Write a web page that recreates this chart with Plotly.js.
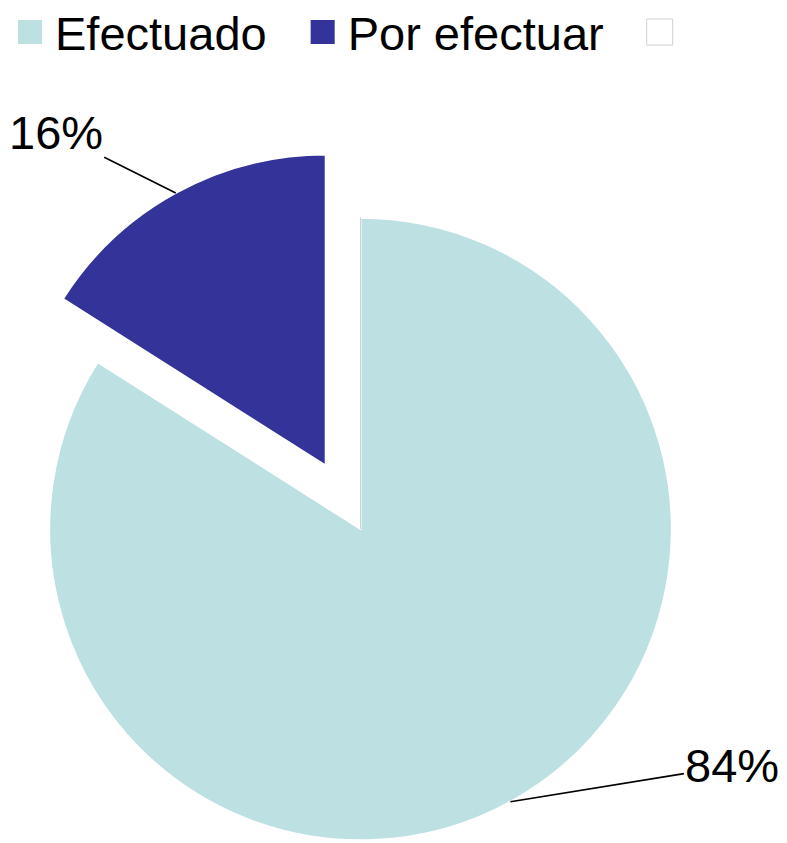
<!DOCTYPE html>
<html>
<head>
<meta charset="utf-8">
<script src="https://cdn.plot.ly/plotly-3.0.1.min.js"></script>
<style>
  html, body { margin: 0; padding: 0; width: 787px; height: 843px; overflow: hidden; background: #fff; }
  #chart { position: absolute; left: -100px; top: -5px; width: 1000px; height: 1000px; }
  .legendpie { transform: translate(51px, 0px) scale(2.17) !important; vector-effect: non-scaling-stroke; }
</style>
</head>
<body>
<div id="chart"></div>
<script>
// ---- data ----
var labels = ["Efectuado", "Por efectuar", " "];
var values = [84, 16, 0];
var pulls = [0, 0.232, 0];
var sliceColors = ["#BDE0E3", "#333399", "#FFFFFF"];
var lineColors = ["#FFFFFF", "#FFFFFF", "#D0D0D0"];
var lineWidths = [2, 2, 1];
var pctLabels = ["84%", "16%"];
var labelOffsets = [[222, -36], [-120, -60]]; // pixel offsets of label text from slice edge

// ---- geometry ----
var W = 1000, H = 1000;
var domX = [0.077, 0.844], domY = [0.0825, 0.8495];
var maxPull = Math.max.apply(null, pulls);
var rPx = Math.min(W * (domX[1] - domX[0]), H * (domY[1] - domY[0])) / 2 / (1 + maxPull);
var cxPx = W * (domX[0] + domX[1]) / 2;
var cyPx = H * (1 - (domY[0] + domY[1]) / 2);

var total = values.reduce(function (a, b) { return a + b; }, 0);
var annotations = [];
var cum = 0;
for (var i = 0; i < 2; i++) {
  var mid = (cum + values[i] / 2) / total;
  cum += values[i];
  var th = mid * 2 * Math.PI;
  var dx = Math.sin(th), dy = -Math.cos(th);
  var pcx = cxPx + dx * rPx * pulls[i];
  var pcy = cyPx + dy * rPx * pulls[i];
  var ex = pcx + dx * rPx, ey = pcy + dy * rPx;
  annotations.push({
    x: ex / W, y: 1 - ey / H, xref: "paper", yref: "paper",
    text: pctLabels[i], showarrow: true, arrowhead: 0, arrowwidth: 1.6,
    arrowcolor: "#000", standoff: 0, ax: labelOffsets[i][0], ay: labelOffsets[i][1],
    font: { family: "Liberation Sans, Arial, sans-serif", size: 47, color: "#000" }
  });
}

var trace = {
  type: "pie",
  labels: labels,
  values: values,
  pull: pulls,
  sort: false,
  direction: "clockwise",
  rotation: 0,
  textinfo: "none",
  hoverinfo: "label+percent",
  domain: { x: domX, y: domY },
  marker: { colors: sliceColors, line: { color: lineColors, width: lineWidths } }
};

var layout = {
  width: W, height: H,
  margin: { l: 0, r: 0, t: 0, b: 0 },
  paper_bgcolor: "#fff",
  showlegend: true,
  legend: {
    orientation: "h", x: 0.079, xanchor: "left", y: 1, yanchor: "top",
    itemwidth: 66,
    font: { family: "Liberation Sans, Arial, sans-serif", size: 47, color: "#000" },
    bgcolor: "rgba(0,0,0,0)"
  },
  annotations: annotations
};

Plotly.newPlot("chart", [trace], layout, { staticPlot: true, displayModeBar: false });
</script>
</body>
</html>
